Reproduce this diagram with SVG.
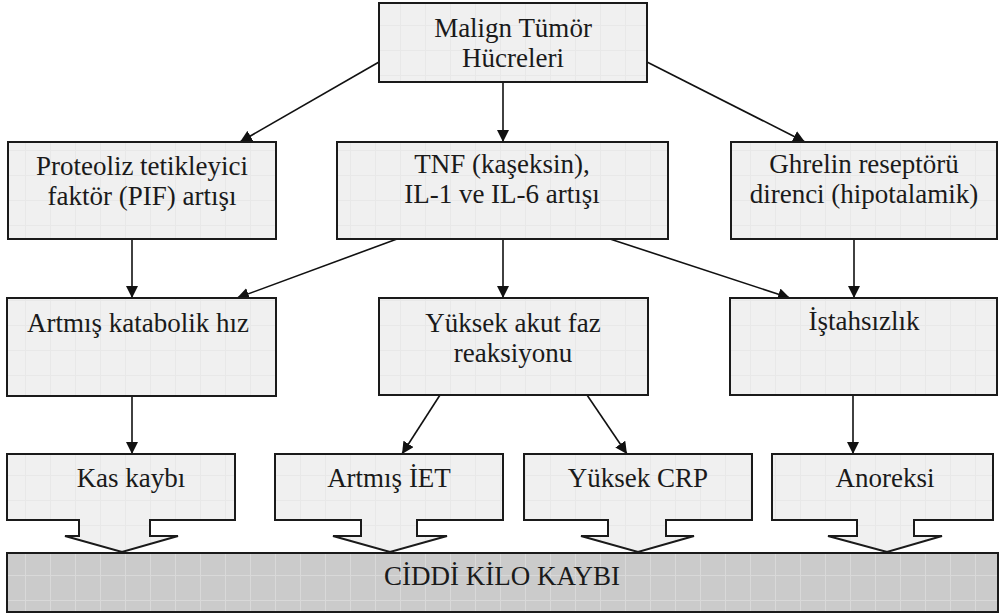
<svg xmlns="http://www.w3.org/2000/svg" width="1000" height="614" viewBox="0 0 1000 614" font-family="Liberation Serif">
<defs>
<style>
.box{fill:url(#lightgrid);stroke:#1a1a1a;stroke-width:2}
.bar{fill:url(#darkgrid);stroke:#1a1a1a;stroke-width:2}
.t{font-size:27px;fill:#1a1a1a;text-anchor:middle}
.c{stroke:#111;stroke-width:1.6;fill:none;marker-end:url(#ah)}
</style>
<pattern id="lightgrid" width="25" height="25" patternUnits="userSpaceOnUse">
<rect width="25" height="25" fill="#f0f0f0"/>
<path d="M0 0.5H25M0.5 0V25" stroke="#e8e8e8" stroke-width="1"/>
</pattern>
<pattern id="darkgrid" width="25" height="25" patternUnits="userSpaceOnUse">
<rect width="25" height="25" fill="#cbcbcb"/>
<path d="M0 0.5H25M0.5 0V25" stroke="#d9d9d9" stroke-width="1"/>
</pattern>
<marker id="ah" viewBox="0 0 12 12" refX="12" refY="6" markerWidth="12" markerHeight="12" markerUnits="userSpaceOnUse" orient="auto">
<path d="M0 0L12 6L0 12z" fill="#111"/>
</marker>
</defs>
<rect width="1000" height="614" fill="#fff"/>
<g id="connectors">
<line class="c" x1="379" y1="62" x2="240" y2="142"/>
<line class="c" x1="503" y1="82" x2="503" y2="142"/>
<line class="c" x1="647" y1="62" x2="805" y2="142"/>
<line class="c" x1="132" y1="239" x2="132" y2="298"/>
<line class="c" x1="397" y1="239" x2="237" y2="298"/>
<line class="c" x1="503" y1="239" x2="503" y2="298"/>
<line class="c" x1="610" y1="239" x2="790" y2="298"/>
<line class="c" x1="854" y1="239" x2="854" y2="298"/>
<line class="c" x1="132" y1="396" x2="132" y2="454"/>
<line class="c" x1="440" y1="395" x2="402" y2="454"/>
<line class="c" x1="587" y1="395" x2="627" y2="454"/>
<line class="c" x1="853" y1="395" x2="853" y2="454"/>
</g>
<g id="n-bottom">
<rect class="bar" x="7" y="553" width="991" height="59"/>
<text class="t" font-family="Liberation Serif" x="502" y="585">CİDDİ KİLO KAYBI</text>
</g>
<g id="n-top">
<rect class="box" x="379" y="3" width="268" height="79"/>
<text class="t" font-family="Liberation Serif" x="513" y="37">Malign Tümör</text>
<text class="t" font-family="Liberation Serif" x="513" y="67">Hücreleri</text>
</g>
<g id="n-pif">
<rect class="box" x="8" y="142" width="268" height="97"/>
<text class="t" font-family="Liberation Serif" x="142" y="175">Proteoliz tetikleyici</text>
<text class="t" font-family="Liberation Serif" x="142" y="205">faktör (PIF) artışı</text>
</g>
<g id="n-tnf">
<rect class="box" x="337" y="142" width="331" height="97"/>
<text class="t" font-family="Liberation Serif" x="502" y="173">TNF (kaşeksin),</text>
<text class="t" font-family="Liberation Serif" x="502" y="203">IL-1 ve IL-6 artışı</text>
</g>
<g id="n-ghrelin">
<rect class="box" x="731" y="142" width="266" height="97"/>
<text class="t" font-family="Liberation Serif" x="864" y="173">Ghrelin reseptörü</text>
<text class="t" font-family="Liberation Serif" x="864" y="203">direnci (hipotalamik)</text>
</g>
<g id="n-katabolik">
<rect class="box" x="7" y="298" width="269" height="98"/>
<text class="t" font-family="Liberation Serif" x="138" y="332">Artmış katabolik hız</text>
</g>
<g id="n-akut">
<rect class="box" x="379" y="298" width="269" height="97"/>
<text class="t" font-family="Liberation Serif" x="513" y="332">Yüksek akut faz</text>
<text class="t" font-family="Liberation Serif" x="513" y="362">reaksiyonu</text>
</g>
<g id="n-istah">
<rect class="box" x="730" y="298" width="267" height="97"/>
<text class="t" font-family="Liberation Serif" x="864" y="330">İştahsızlık</text>
</g>
<g id="n-kas">
<path class="box" d="M7 454H235V520H150V536H178L122 552L65 536H79V520H7Z"/>
<text class="t" font-family="Liberation Serif" x="131" y="487">Kas kaybı</text>
</g>
<g id="n-iet">
<path class="box" d="M275 454H503V520H417V536H447L390 552L333 536H361V520H275Z"/>
<text class="t" font-family="Liberation Serif" x="389" y="487">Artmış İET</text>
</g>
<g id="n-crp">
<path class="box" d="M524 454H752V520H666V536H694L638 552L581 536H608V520H524Z"/>
<text class="t" font-family="Liberation Serif" x="638" y="487">Yüksek CRP</text>
</g>
<g id="n-anoreksi">
<path class="box" d="M772 454H993V520H914V536H942L887 552L828 536H857V520H772Z"/>
<text class="t" font-family="Liberation Serif" x="885" y="487">Anoreksi</text>
</g>
</svg>
